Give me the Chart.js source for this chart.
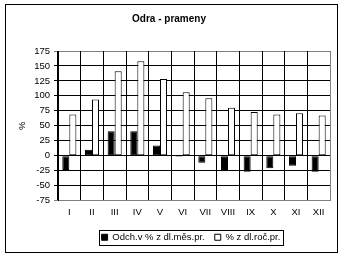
<!DOCTYPE html>
<html>
<head>
<meta charset="utf-8">
<script src="https://cdn.jsdelivr.net/npm/chart.js@4/dist/chart.umd.min.js"></script>
<style>
    body { margin: 0; background: #fff; }
    canvas { display: block; }
</style>
</head>
<body>
<canvas id="graf" width="344" height="258"></canvas>
<script>
// data
const mesice = ['I', 'II', 'III', 'IV', 'V', 'VI', 'VII', 'VIII', 'IX', 'X', 'XI', 'XII'];
const odchylka = [-24, 10, 41, 41, 17, -2, -12, -26, -27, -21, -17, -27];
const podilRocni = [69, 94, 141, 158, 128, 106, 96, 80, 73, 69, 71, 67];
const osaY = { min: -75, max: 175, krok: 25 };

const pismo = "'Liberation Sans', Arial, sans-serif";
const sedaCara = '#808080';
const posunLegendy = 22; // legenda v originále není uprostřed, je posunutá doprava

// bílé pozadí, šedý pravý okraj plochy, rámeček kolem grafu a kolem legendy
const ramecky = {
    id: 'ramecky',
    beforeDraw(chart) {
        const ctx = chart.ctx;
        ctx.save();
        ctx.fillStyle = '#fff';
        ctx.fillRect(0, 0, chart.width, chart.height);
        ctx.restore();

        const legenda = chart.legend;
        if (legenda && !legenda._posunuto) {
            legenda.left += posunLegendy;
            legenda.right += posunLegendy;
            legenda._posunuto = true;
        }
    },
    afterDraw(chart) {
        const ctx = chart.ctx;
        const plocha = chart.chartArea;
        ctx.save();
        ctx.lineWidth = 1;

        // pravý okraj plochy je v originále šedý
        const xp = Math.round(plocha.right) + 0.5;
        ctx.strokeStyle = sedaCara;
        ctx.beginPath();
        ctx.moveTo(xp, plocha.top);
        ctx.lineTo(xp, plocha.bottom);
        ctx.stroke();

        ctx.strokeStyle = '#000';
        ctx.strokeRect(5.5, 4.5, 332, 248);

        const boxy = chart.legend.legendHitBoxes;
        if (boxy && boxy.length) {
            const vlevo = Math.min(...boxy.map(b => b.left)) + posunLegendy;
            const vpravo = Math.max(...boxy.map(b => b.left + b.width)) + posunLegendy;
            const nahore = boxy[0].top;
            const vyska = boxy[0].height;
            ctx.strokeRect(Math.round(vlevo - 3) + 0.5, Math.round(nahore - 3) + 0.5,
                Math.round(vpravo - vlevo + 5), Math.round(vyska + 5));
        }
        ctx.restore();
    }
};

new Chart(document.getElementById('graf'), {
    type: 'bar',
    data: {
        labels: mesice,
        datasets: [{
            label: 'Odch.v % z dl.měs.pr.',
            data: odchylka,
            backgroundColor: '#000',
            borderColor: '#000',
            borderWidth: 1,
            borderSkipped: false
        }, {
            label: '% z dl.roč.pr.',
            data: podilRocni,
            backgroundColor: '#fff',
            borderColor: '#000',
            borderWidth: 1,
            borderSkipped: false
        }]
    },
    options: {
        responsive: false,
        animation: false,
        devicePixelRatio: 1,
        layout: { padding: { left: 8, right: 14, top: 0, bottom: 6 } },
        datasets: {
            bar: { categoryPercentage: 0.62, barPercentage: 1 }
        },
        scales: {
            x: {
                grid: {
                    display: true,
                    drawOnChartArea: true,
                    offset: true,
                    drawTicks: false,
                    color: '#000',
                    lineWidth: 1,
                    z: 0
                },
                border: { color: sedaCara },
                ticks: { color: '#000', padding: 6, font: { family: pismo, size: 9.5 } },
                afterFit: (scale) => { scale.height = 22; }
            },
            y: {
                min: osaY.min,
                max: osaY.max,
                ticks: {
                    stepSize: osaY.krok,
                    color: '#000',
                    padding: 4,
                    font: { family: pismo, size: 9.5 }
                },
                grid: {
                    tickLength: 4,
                    color: (c) => (c.index === 0 || c.tick && c.tick.value === osaY.max) ? sedaCara : '#000',
                    lineWidth: 1
                },
                border: { color: '#000' },
                title: {
                    display: true,
                    text: '%',
                    color: '#000',
                    padding: { top: 9, bottom: 0 },
                    font: { family: pismo, size: 9.5 }
                },
                afterFit: (scale) => { scale.width = 50; }
            }
        },
        plugins: {
            title: {
                display: true,
                text: 'Odra - prameny',
                color: '#000',
                padding: { top: 13, bottom: 26 },
                font: { family: pismo, size: 10, weight: 'bold' }
            },
            legend: {
                position: 'bottom',
                labels: {
                    color: '#000',
                    boxWidth: 6,
                    boxHeight: 6,
                    padding: 10,
                    font: { family: pismo, size: 9.5 }
                }
            },
            tooltip: { enabled: false }
        }
    },
    plugins: [ramecky]
});
</script>
</body>
</html>
